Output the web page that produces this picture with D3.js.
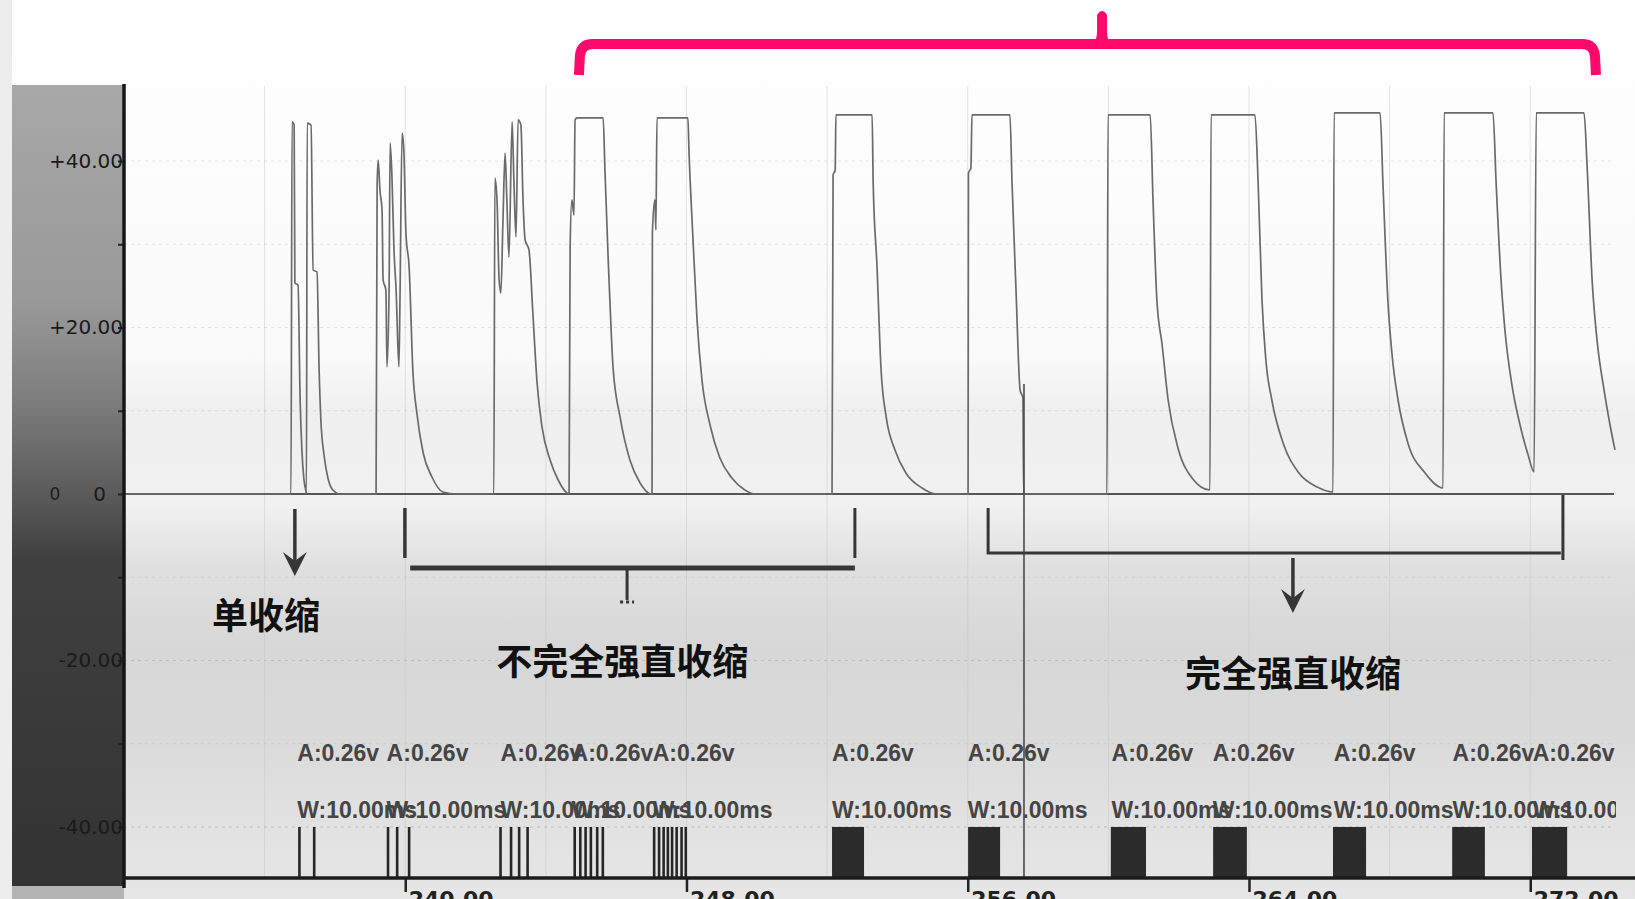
<!DOCTYPE html>
<html><head><meta charset="utf-8">
<script src="https://cdn.jsdelivr.net/npm/d3@7"></script>
<style>
html,body{margin:0;padding:0;background:#fafafa;overflow:hidden}
svg{display:block}
</style></head><body>
<svg id="chart" width="1635" height="899"></svg>
<script>
// ---------- data (time in s, force in g) ----------
const xTickValues = [240, 248, 256, 264, 272];
const xGridValues = [236, 240, 244, 248, 252, 256, 260, 264, 268, 272];
const yTickValues = [40, 20, 0, -20, -40];
const yTickLabels = ["+40.00", "+20.00", "0", "-20.00", "-40.00"];
const yMinorTicks = [30, 10, -10, -30];

const traceBursts = [
  [[236.58,0],[236.75,0],[236.78,44.69],[236.84,44.32],[236.86,25.35],[236.95,25.11],[237.01,11.29],[237.06,5.29],[237.12,1.68],[237.18,0.24],[237.19,0],
   [237.21,44.56],[237.32,44.32],[237.38,26.91],[237.49,26.67],[237.55,14.90],[237.60,8.89],[237.69,4.68],[237.80,1.92],[237.94,0.48],[238.14,0]],
  [[239.17,0],[239.20,37.12],[239.23,40.12],[239.28,36.52],[239.34,34.11],[239.37,25.71],[239.45,24.50],[239.48,15.26],[239.54,24.50],[239.57,42.16],
   [239.62,38.32],[239.68,29.31],[239.74,24.50],[239.82,15.26],[239.85,23.30],[239.91,43.36],[239.96,41.32],[240.02,31.35],[240.11,27.27],[240.22,14.53],
   [240.33,9.73],[240.51,4.92],[240.76,2.04],[241.07,0.24],[241.47,0]],
  [[242.52,0],[242.55,37.96],[242.61,35.32],[242.67,25.71],[242.72,24.14],[242.78,32.91],[242.84,40.96],[242.89,35.32],[242.95,28.47],[243.04,44.69],
   [243.09,37.72],[243.15,30.87],[243.21,44.93],[243.29,44.32],[243.35,35.32],[243.41,30.51],[243.52,29.31],[243.63,21.74],[243.75,13.33],[243.89,8.05],
   [244.12,4.08],[244.35,1.68],[244.60,0.12]],
  [[244.66,0],[244.69,29.67],[244.74,35.32],[244.80,33.51],[244.83,44.93],[244.89,45.17],[245.63,45.17],[245.68,38.92],[245.77,28.47],[245.82,23.30],
   [245.91,15.26],[246.11,9.25],[246.39,4.08],[246.68,1.32],[246.99,0]],
  [[247.02,0],[247.03,31.35],[247.10,35.32],[247.13,31.71],[247.16,45.17],[248.04,45.17],[248.07,41.32],[248.19,30.15],[248.30,20.90],[248.44,13.69],
   [248.67,8.29],[248.95,4.32],[249.29,1.92],[249.66,0.48],[249.95,0]],
  [[252.14,0],[252.17,38.32],[252.23,38.92],[252.25,45.53],[253.28,45.53],[253.31,37.36],[253.42,27.27],[253.53,15.26],[253.68,9.25],[253.93,5.29],
   [254.24,2.52],[254.70,0.72],[255.10,0]],
  [[256.01,0],[256.02,38.56],[256.09,39.16],[256.12,45.53],[257.20,45.53],[257.26,37.36],[257.37,24.87],[257.49,12.49],[257.57,11.53],[257.59,0]],
  [[259.96,0],[259.99,45.53],[261.19,45.53],[261.27,35.32],[261.38,23.30],[261.53,17.90],[261.70,11.29],[261.98,5.53],[262.38,1.92],[262.89,0.48]],
  [[262.92,45.53],[264.17,45.53],[264.26,37.36],[264.37,23.30],[264.48,16.10],[264.65,11.29],[264.97,6.13],[265.42,2.52],[265.94,0.84],[266.39,0.24]],
  [[266.42,45.77],[267.73,45.77],[267.81,37.36],[267.95,23.30],[268.07,16.70],[268.24,11.29],[268.52,6.13],[269.01,2.52],[269.52,0.72]],
  [[269.55,45.77],[270.94,45.77],[271.03,37.36],[271.17,25.71],[271.28,19.70],[271.48,13.09],[271.71,8.29],[271.94,4.68],[272.11,2.64]],
  [[272.17,45.77],[273.53,45.77],[273.62,39.16],[273.76,25.71],[273.90,18.50],[274.10,12.49],[274.27,8.29],[274.41,5.29]]
];

const stimPulses = [
  [236.99, 237.41],
  [239.51, 239.77, 240.11],
  [242.71, 243.01, 243.24, 243.48],
  [244.82, 244.98, 245.13, 245.28, 245.46, 245.62],
  [247.08, 247.22, 247.35, 247.47, 247.59, 247.72, 247.86, 247.98]
];
const stimBlocks = [[252.14,253.05],[256.01,256.92],[260.07,261.07],[262.98,263.94],[266.39,267.33],[269.78,270.71],[272.05,273.05]];
const labelTimes = [236.93, 239.47, 242.71, 244.73, 247.04, 252.14, 256.00, 260.09, 262.97, 266.41, 269.79, 272.07];
const ampText = "A:0.26v";
const widthText = "W:10.00ms";
const stimTop = -40;

const categoryLabels = ["单收缩", "不完全强直收缩", "完全强直收缩"];
const categoryLabelPos = [[236.04, -14.29], [246.17, -19.82], [265.25, -21.26]];
const twitchArrow = [236.86, -1.80, -9.85];
const partialBracket = [239.99, 252.79, -1.68, -7.69, -8.89];   // left t, right t, tick top, tick bottom, bar
const partialBarStart = 240.14;
const partialStub = [246.31, -8.89, -12.73];
const fullBracket = [256.58, 272.87, -1.68, -7.09];             // left t, right t, left top, bar
const fullRightTick = [272.93, -0.12, -7.93];
const fullArrow = [265.25, -7.69, -14.29];
const cursorLine = [257.60, 13.21];
const braceSpan = [244.94, 273.87, 259.82];                     // left, right, centre
const braceLevels = [54.05, 50.33, 58.14];                      // bar, leg end, tip

// ---------- scales ----------
const W = 1635, H = 899;
const x = d3.scaleLinear().domain([232, 275]).range([124, 1635.7]);
const y = d3.scaleLinear().domain([-46.13, 49.13]).range([878, 85]);
const xEnd = 274.38;

const svg = d3.select("#chart");
const defs = svg.append("defs");

const bg = defs.append("linearGradient").attr("id","bgGrad")
  .attr("gradientUnits","userSpaceOnUse").attr("x1",0).attr("y1",0).attr("x2",0).attr("y2",H);
[[0,"#ffffff"],[0.40,"#f9f9f9"],[0.46,"#efefef"],[0.56,"#f1f1f1"],[0.63,"#e0e0e0"],[0.72,"#d7d7d7"],[0.82,"#dadada"],[0.92,"#e2e2e2"],[1,"#e6e6e6"]]
  .forEach(s => bg.append("stop").attr("offset", s[0]).attr("stop-color", s[1]));

const pg = defs.append("linearGradient").attr("id","panelGrad")
  .attr("gradientUnits","userSpaceOnUse").attr("x1",0).attr("y1",85).attr("x2",0).attr("y2",886);
[[0,"#a8a8a8"],[0.27,"#999999"],[0.39,"#7e7e7e"],[0.51,"#5b5b5b"],[0.59,"#404040"],[1,"#333333"]]
  .forEach(s => pg.append("stop").attr("offset", s[0]).attr("stop-color", s[1]));

defs.append("clipPath").attr("id","plotClip").append("rect")
  .attr("x", 0).attr("y", 0).attr("width", x(xEnd) + 2).attr("height", H);

// background
svg.append("rect").attr("width", W).attr("height", H).attr("fill", "url(#bgGrad)");
svg.append("rect").attr("x", 0).attr("y", 0).attr("width", 12).attr("height", H).attr("fill", "#ededed");
svg.append("rect").attr("x", 12).attr("y", 85).attr("width", x(232) - 12).attr("height", 801).attr("fill", "url(#panelGrad)");
svg.append("rect").attr("x", 12).attr("y", 886).attr("width", x(232) - 12).attr("height", 13).attr("fill", "#b4b4b4");

// faint grid
svg.append("g").selectAll("line").data(xGridValues).join("line")
  .attr("x1", d => x(d)).attr("x2", d => x(d)).attr("y1", y(49)).attr("y2", y(-46.13))
  .attr("stroke", "#c4c4c4").attr("stroke-width", 1).attr("opacity", 0.45);
svg.append("g").selectAll("line").data(yTickValues.concat(yMinorTicks).filter(d => d !== 0)).join("line")
  .attr("x1", x(232)).attr("x2", x(xEnd)).attr("y1", d => y(d)).attr("y2", d => y(d))
  .attr("stroke", "#b8b8b8").attr("stroke-dasharray", "3,4").attr("opacity", d => d < 0 && d % 20 === 0 ? 0.8 : 0.35);

// zero line
svg.append("line").attr("x1", x(232)).attr("x2", x(xEnd)).attr("y1", y(0)).attr("y2", y(0))
  .attr("stroke", "#555").attr("stroke-width", 2);

// trace
const allPoints = [[232, 0]].concat(...traceBursts);
svg.append("path").datum(allPoints)
  .attr("d", d3.line().x(d => x(d[0])).y(d => y(d[1])).curve(d3.curveMonotoneX))
  .attr("fill", "none").attr("stroke", "#6a6a6a").attr("stroke-width", 1.7).attr("stroke-linejoin", "round");

// stimulus markers
const stimG = svg.append("g");
stimG.selectAll("line").data(stimPulses.flat()).join("line")
  .attr("x1", d => x(d)).attr("x2", d => x(d)).attr("y1", y(stimTop)).attr("y2", y(-46.13))
  .attr("stroke", "#262626").attr("stroke-width", 2.6);
stimG.selectAll("rect").data(stimBlocks).join("rect")
  .attr("x", d => x(d[0])).attr("width", d => x(d[1]) - x(d[0]))
  .attr("y", y(stimTop)).attr("height", y(-46.13) - y(stimTop))
  .attr("fill", "#2b2b2b");

// stimulus labels
const lblG = svg.append("g").attr("clip-path", "url(#plotClip)")
  .attr("font-family", "'Liberation Sans', Arial, sans-serif").attr("font-weight", "bold")
  .attr("font-size", 23).attr("fill", "#454545");
lblG.selectAll("text.a").data(labelTimes).join("text").attr("class", "a")
  .attr("x", d => x(d)).attr("y", y(-32.07)).text(ampText);
lblG.selectAll("text.w").data(labelTimes).join("text").attr("class", "w")
  .attr("x", d => x(d)).attr("y", y(-38.91)).text(widthText);

// cursor line
svg.append("line").attr("x1", x(cursorLine[0])).attr("x2", x(cursorLine[0]))
  .attr("y1", y(cursorLine[1])).attr("y2", y(-46.13))
  .attr("stroke", "#4a4a4a").attr("stroke-width", 1.6);

// axes
const yAxis = d3.axisLeft(y).tickValues(yTickValues).tickFormat((d, i) => yTickLabels[i]).tickSize(6).tickPadding(-5);
const yg = svg.append("g").attr("transform", `translate(${x(232)},0)`).call(yAxis);
yg.select(".domain").remove();
yg.selectAll("text").attr("font-family", "DejaVu Sans, sans-serif").attr("font-size", 20).attr("fill", "#1a1a1a");
yg.selectAll(".tick").filter(d => d === 0).select("text").attr("x", -18);
yg.selectAll("line").attr("stroke", "#222").attr("stroke-width", 2);
const ygm = svg.append("g").attr("transform", `translate(${x(232)},0)`)
  .call(d3.axisLeft(y).tickValues(yMinorTicks).tickFormat("").tickSize(6));
ygm.select(".domain").remove();
ygm.selectAll("line").attr("stroke", "#222").attr("stroke-width", 2);
svg.append("text").attr("x", 55).attr("y", y(0)).attr("dy", "0.35em").attr("text-anchor", "middle")
  .attr("font-family", "DejaVu Sans, sans-serif").attr("font-size", 17).attr("fill", "#1e1e1e").text("0");

const xAxis = d3.axisBottom(x).tickValues(xTickValues).tickFormat(d3.format(".2f")).tickSize(14);
const xg = svg.append("g").attr("transform", `translate(0,${y(-46.13)})`).call(xAxis);
xg.select(".domain").remove();
xg.selectAll("line").attr("stroke", "#222").attr("stroke-width", 2.5);
xg.selectAll("text").attr("text-anchor", "start").attr("x", 3).attr("y", 29).attr("dy", null)
  .attr("font-family", "DejaVu Sans, sans-serif").attr("font-size", 22).attr("font-weight", "bold").attr("fill", "#222");

svg.append("line").attr("x1", x(232)).attr("x2", x(232)).attr("y1", 84).attr("y2", 888)
  .attr("stroke", "#161616").attr("stroke-width", 3.5);
svg.append("line").attr("x1", x(232) - 2).attr("x2", W).attr("y1", y(-46.13)).attr("y2", y(-46.13))
  .attr("stroke", "#1c1c1c").attr("stroke-width", 3.5);

// ---------- annotations ----------
const ann = svg.append("g").attr("stroke", "#363636").attr("fill", "none").attr("stroke-linecap", "butt");
function arrowDown(t, v0, v1) {
  const ax = x(t), a0 = y(v0), a1 = y(v1);
  ann.append("line").attr("x1", ax).attr("x2", ax).attr("y1", a0).attr("y2", a1 - 8).attr("stroke-width", 3.5);
  ann.append("path").attr("d", `M${ax-12},${a1-24} L${ax},${a1} L${ax+12},${a1-24} L${ax},${a1-15} Z`)
    .attr("fill", "#363636").attr("stroke", "none");
}
arrowDown(...twitchArrow);

// partial tetanus bracket
ann.append("line").attr("x1", x(partialBracket[0])).attr("x2", x(partialBracket[0]))
  .attr("y1", y(partialBracket[2])).attr("y2", y(partialBracket[3])).attr("stroke-width", 3.5);
ann.append("line").attr("x1", x(partialBracket[1])).attr("x2", x(partialBracket[1]))
  .attr("y1", y(partialBracket[2])).attr("y2", y(partialBracket[3])).attr("stroke-width", 3);
ann.append("line").attr("x1", x(partialBarStart)).attr("x2", x(partialBracket[1]))
  .attr("y1", y(partialBracket[4])).attr("y2", y(partialBracket[4])).attr("stroke-width", 5);
ann.append("line").attr("x1", x(partialStub[0])).attr("x2", x(partialStub[0]))
  .attr("y1", y(partialStub[1])).attr("y2", y(partialStub[2])).attr("stroke-width", 3);
ann.append("line").attr("x1", x(partialStub[0]) - 7).attr("x2", x(partialStub[0]) + 7)
  .attr("y1", y(partialStub[2]) + 2).attr("y2", y(partialStub[2]) + 2).attr("stroke-width", 3).attr("stroke-dasharray", "3,3");

// complete tetanus bracket
ann.append("path").attr("d",
  `M${x(fullBracket[0])},${y(fullBracket[2])} L${x(fullBracket[0])},${y(fullBracket[3])} L${x(fullBracket[1])},${y(fullBracket[3])}`)
  .attr("stroke-width", 3);
ann.append("line").attr("x1", x(fullRightTick[0])).attr("x2", x(fullRightTick[0]))
  .attr("y1", y(fullRightTick[1])).attr("y2", y(fullRightTick[2])).attr("stroke-width", 3);
arrowDown(...fullArrow);

// category labels
svg.append("g").selectAll("text").data(categoryLabels).join("text")
  .attr("x", (d, i) => x(categoryLabelPos[i][0])).attr("y", (d, i) => y(categoryLabelPos[i][1]))
  .attr("text-anchor", "middle").attr("dominant-baseline", "central")
  .attr("font-family", "'Noto Sans CJK SC', sans-serif").attr("font-weight", "bold")
  .attr("font-size", 36).attr("fill", "#111").text(d => d);

// pink brace
const bl = x(braceSpan[0]), br = x(braceSpan[1]), bm = x(braceSpan[2]);
const by = y(braceLevels[0]), bLeg = y(braceLevels[1]), bTip = y(braceLevels[2]);
svg.append("path").attr("d",
  `M${bl},${bLeg} L${bl+1},${by+12} Q${bl+2},${by} ${bl+14},${by} L${br-14},${by} Q${br-2},${by} ${br-1},${by+12} L${br},${bLeg}`)
  .attr("fill", "none").attr("stroke", "#ff0a6c").attr("stroke-width", 10);
svg.append("path").attr("d",
  `M${bm-12},${by} Q${bm-5},${by-2} ${bm-5},${by-12} L${bm-5},${bTip+5} Q${bm},${bTip-3} ${bm+5},${bTip+5} L${bm+5},${by-12} Q${bm+5},${by-2} ${bm+12},${by} Z`)
  .attr("fill", "#ff0a6c");
</script>
</body></html>
